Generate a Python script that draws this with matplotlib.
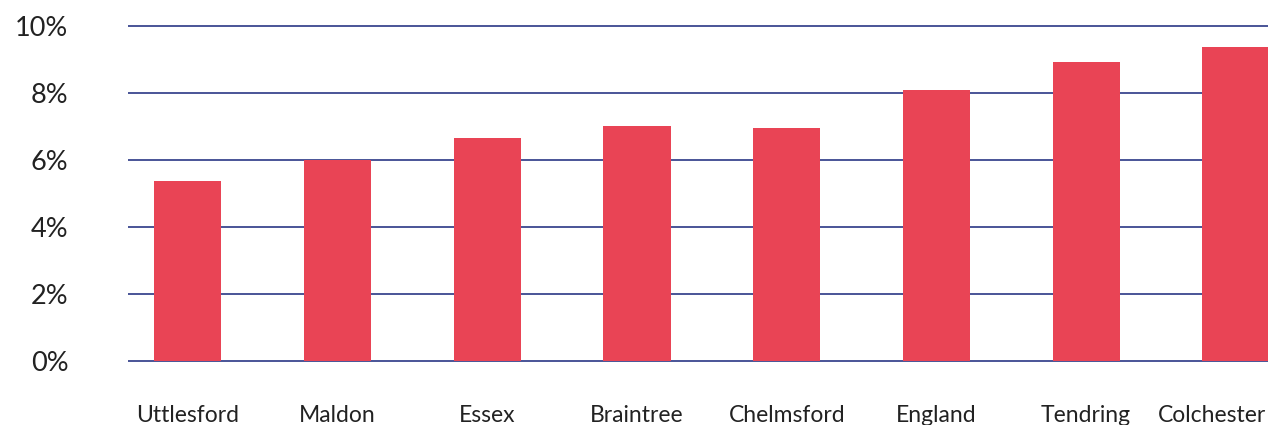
import matplotlib.pyplot as plt
import matplotlib.transforms as mtransforms
import numpy as np

areas = ['Uttlesford', 'Maldon', 'Essex', 'Braintree', 'Chelmsford',
         'England', 'Tendring', 'Colchester']
rates = [5.37, 6.0, 6.66, 7.01, 6.96, 8.09, 8.93, 9.37]
yticks = [0, 2, 4, 6, 8, 10]

plt.rcParams['font.family'] = ['Lato', 'DejaVu Sans']

fig = plt.figure(figsize=(12.68, 4.25), dpi=100)
ax = fig.add_axes([128 / 1268, 62 / 425, 1140 / 1268, 339 / 425])

x = np.arange(len(areas))
ax.bar(x, rates, width=0.448, color='#E94455', zorder=3)

ax.set_xlim(-0.40, 7.215)
ax.set_ylim(-0.06, 10.06)
ax.set_yticks(yticks)
ax.set_yticklabels([f'{v}%' for v in yticks], fontsize=19.5, color='#222222')
ax.yaxis.grid(True, color='#3A468F', linewidth=1.3, zorder=1)

ax.set_xticks(x)
ax.set_xticklabels(areas, fontsize=16.5, color='#222222')
ax.tick_params(axis='x', length=0, pad=30)
ax.tick_params(axis='y', length=0, pad=43)

# keep the last label inside the canvas
last = ax.get_xticklabels()[-1]
last.set_horizontalalignment('right')
last.set_transform(last.get_transform() + mtransforms.ScaledTranslation(30 / 100, 0, fig.dpi_scale_trans))

for s in ax.spines.values():
    s.set_visible(False)

fig.savefig('out.png', dpi=100)
